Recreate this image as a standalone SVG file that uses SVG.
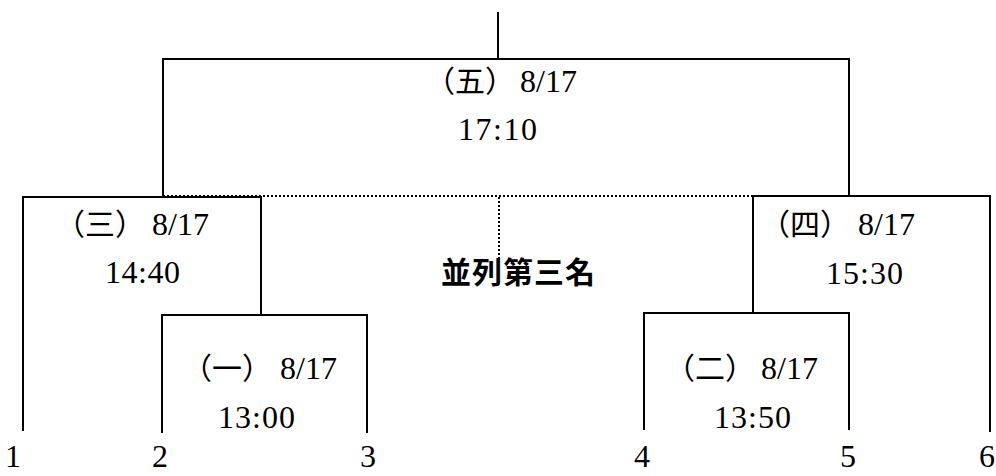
<svg xmlns="http://www.w3.org/2000/svg" width="996" height="476" viewBox="0 0 996 476">
<style>
.ln{fill:none;stroke:#000;stroke-width:2;stroke-linecap:square}
.dot{fill:none;stroke:#000;stroke-width:2;stroke-dasharray:2 2}
.cjk{font-family:"Noto Sans CJK TC","Noto Sans CJK SC",sans-serif;font-size:30px;fill:#000}
.num{font-family:"Liberation Serif","Noto Sans CJK TC",serif;font-size:32px;fill:#000}
.lbl{font-family:"Noto Sans CJK TC","Noto Sans CJK SC",sans-serif;font-size:30px;font-weight:bold;fill:#000;letter-spacing:1px}
</style>
<rect width="996" height="476" fill="#fff"/>
<g id="connectors">
<path class="dot" d="M163 196 H849"/>
<path class="dot" d="M499 197 V258"/>
<path class="ln" d="M498 13 V59"/>
<path class="ln" d="M163 196 V59 H849 V196"/>
<path class="ln" d="M23 430 V197 H261 V314"/>
<path class="ln" d="M162 432 V315 H367 V432"/>
<path class="ln" d="M753 312 V196 H990 V431"/>
<path class="ln" d="M644 429 V313 H849 V429"/>
</g>
<g id="match5">
<text class="cjk" x="425" y="92">（五）</text>
<text class="num" x="520" y="92">8/17</text>
<text class="num" x="458" y="140" textLength="79" lengthAdjust="spacing">17:10</text>
</g>
<g id="match3">
<text class="cjk" x="55" y="235">（三）</text>
<text class="num" x="152" y="235">8/17</text>
<text class="num" x="105" y="283" textLength="75" lengthAdjust="spacing">14:40</text>
</g>
<g id="match4">
<text class="cjk" x="760" y="235">（四）</text>
<text class="num" x="858" y="235">8/17</text>
<text class="num" x="826" y="284" textLength="77" lengthAdjust="spacing">15:30</text>
</g>
<g id="match1">
<text class="cjk" x="182" y="379">（一）</text>
<text class="num" x="280" y="379">8/17</text>
<text class="num" x="218" y="428" textLength="77" lengthAdjust="spacing">13:00</text>
</g>
<g id="match2">
<text class="cjk" x="665" y="379">（二）</text>
<text class="num" x="761" y="379">8/17</text>
<text class="num" x="714" y="428" textLength="77" lengthAdjust="spacing">13:50</text>
</g>
<g id="third">
<text class="lbl" x="441" y="283">並列第三名</text>
</g>
<g id="seeds" class="num" text-anchor="middle">
<text x="13" y="467">1</text>
<text x="160" y="467">2</text>
<text x="368" y="467">3</text>
<text x="642" y="467">4</text>
<text x="848" y="467">5</text>
<text x="995" y="467" text-anchor="end">6</text>
</g>
</svg>
